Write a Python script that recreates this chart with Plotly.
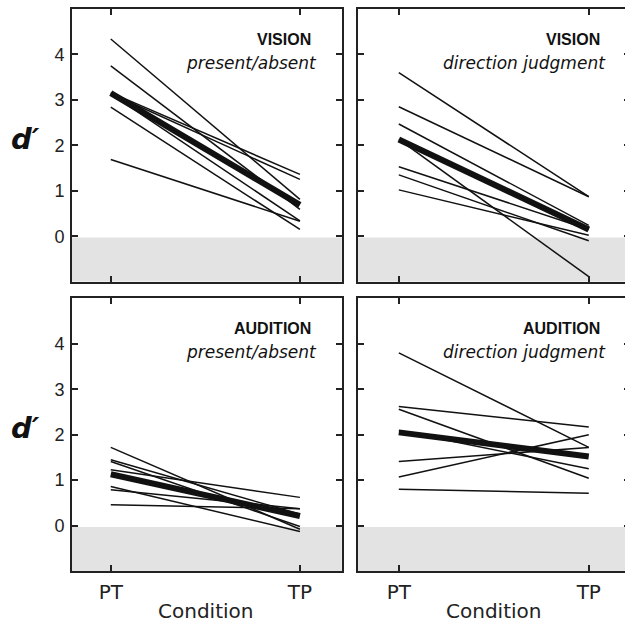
import plotly.graph_objects as go

conditions = ["PT", "TP"]
cond_x = [1, 2]

# VISION present/absent (individual subjects)
vis_pa_pt = [4.34, 3.75, 2.84, 1.69, 3.16, 3.14, 3.13]
vis_pa_tp = [0.81, 0.59, 0.15, 0.33, 1.36, 1.25, 0.34]
vis_pa_mean = [3.15, 0.69]

# VISION direction judgment
vis_dj_pt = [3.60, 2.85, 2.47, 2.13, 1.53, 1.35, 1.02]
vis_dj_tp = [0.87, 0.87, 0.24, -0.89, 0.15, -0.10, 0.02]
vis_dj_mean = [2.13, 0.15]

# AUDITION present/absent
aud_pa_pt = [1.72, 1.45, 1.41, 1.23, 0.86, 0.79, 0.46]
aud_pa_tp = [-0.08, 0.25, -0.02, 0.62, -0.13, 0.37, 0.37]
aud_pa_mean = [1.13, 0.21]

# AUDITION direction judgment
aud_dj_pt = [3.80, 2.62, 2.56, 2.09, 1.41, 1.07, 0.80]
aud_dj_tp = [1.72, 2.17, 1.04, 1.25, 1.72, 2.00, 0.71]
aud_dj_mean = [2.05, 1.52]

panels = [
    ("VISION", "present/absent", vis_pa_pt, vis_pa_tp, vis_pa_mean),
    ("VISION", "direction judgment", vis_dj_pt, vis_dj_tp, vis_dj_mean),
    ("AUDITION", "present/absent", aud_pa_pt, aud_pa_tp, aud_pa_mean),
    ("AUDITION", "direction judgment", aud_dj_pt, aud_dj_tp, aud_dj_mean),
]

y_ticks = [0, 1, 2, 3, 4]
y_range = [-1, 5]

# the right-hand panels run slightly past the window edge, as in the reference
W, H = 632, 623
ml, mr, mt, mb = 72, 0, 9, 52

xdomains = [[0, 0.4834], [0.5125, 1.0]]
ydomains = [[0.5148, 1.0], [0.0, 0.4852]]
xranges = [[0.795, 2.221], [0.785, 2.217]]

fig = go.Figure()
layout = dict(
    width=W, height=H, margin=dict(l=ml, r=mr, t=mt, b=mb),
    paper_bgcolor="white", plot_bgcolor="white", showlegend=False,
)
annotations = []
shapes = []
tick_font = dict(family="Liberation Sans", size=18, color="#222")
cond_font = dict(family="DejaVu Sans", size=20, color="#222")

for i, (title, sub, pt, tp, mean) in enumerate(panels):
    row, col = divmod(i, 2)
    n = i + 1
    xa = "x" if n == 1 else f"x{n}"
    ya = "y" if n == 1 else f"y{n}"
    xkey = "xaxis" if n == 1 else f"xaxis{n}"
    ykey = "yaxis" if n == 1 else f"yaxis{n}"
    # gray region below zero
    shapes.append(dict(type="rect", xref=f"{xa} domain", yref=ya,
                       x0=0, x1=1, y0=-1, y1=-0.03,
                       fillcolor="#e3e3e3", line=dict(width=0), layer="below"))
    for a, b in zip(pt, tp):
        fig.add_trace(go.Scatter(x=cond_x, y=[a, b], mode="lines",
                                 line=dict(color="#111", width=1.5),
                                 xaxis=xa, yaxis=ya, hoverinfo="skip"))
    fig.add_trace(go.Scatter(x=cond_x, y=mean, mode="lines",
                             line=dict(color="#111", width=6),
                             xaxis=xa, yaxis=ya, hoverinfo="skip"))
    layout[xkey] = dict(
        domain=xdomains[col], range=xranges[col], anchor=ya,
        tickvals=cond_x, ticktext=conditions,
        showticklabels=(row == 1), tickfont=cond_font,
        ticks="inside", ticklen=6, tickwidth=2, tickcolor="#222",
        showline=True, linewidth=2, linecolor="#222", mirror="ticks",
        showgrid=False, zeroline=False, ticklabelstandoff=2,
        fixedrange=True,
    )
    layout[ykey] = dict(
        domain=ydomains[row], range=y_range, anchor=xa,
        tickvals=y_ticks, showticklabels=(col == 0), tickfont=tick_font,
        ticks="inside", ticklen=6, tickwidth=2, tickcolor="#222",
        showline=True, linewidth=2, linecolor="#222", mirror="ticks",
        showgrid=False, zeroline=False, ticklabelstandoff=2,
        fixedrange=True,
    )
    annotations.append(dict(text=f"<b>{title}</b>", xref=xa, yref=ya,
                            x=2.07, y=4.33, xanchor="right", yanchor="middle",
                            showarrow=False,
                            font=dict(family="Liberation Sans", size=16, color="#111")))
    annotations.append(dict(text=f"<i>{sub}</i>", xref=xa, yref=ya,
                            x=2.10, y=3.81, xanchor="right", yanchor="middle",
                            showarrow=False,
                            font=dict(family="DejaVu Sans", size=17, color="#111")))
    if col == 0:
        annotations.append(dict(text="<b><i>d′</i></b>", xref="paper", yref=ya,
                                x=-0.084, y=2.15, xanchor="center", yanchor="middle",
                                showarrow=False,
                                font=dict(family="DejaVu Sans", size=29, color="#111")))
    if row == 1:
        annotations.append(dict(text="Condition", xref=xa, yref="paper",
                                x=1.5, y=0, xanchor="center", yanchor="middle",
                                yshift=-40, showarrow=False, font=cond_font))

layout["shapes"] = shapes
layout["annotations"] = annotations
fig.update_layout(**layout)
fig.write_html(
    "out.html",
    config={"displayModeBar": False},
    post_script="document.body.style.margin='0';document.body.style.overflow='hidden';",
)
